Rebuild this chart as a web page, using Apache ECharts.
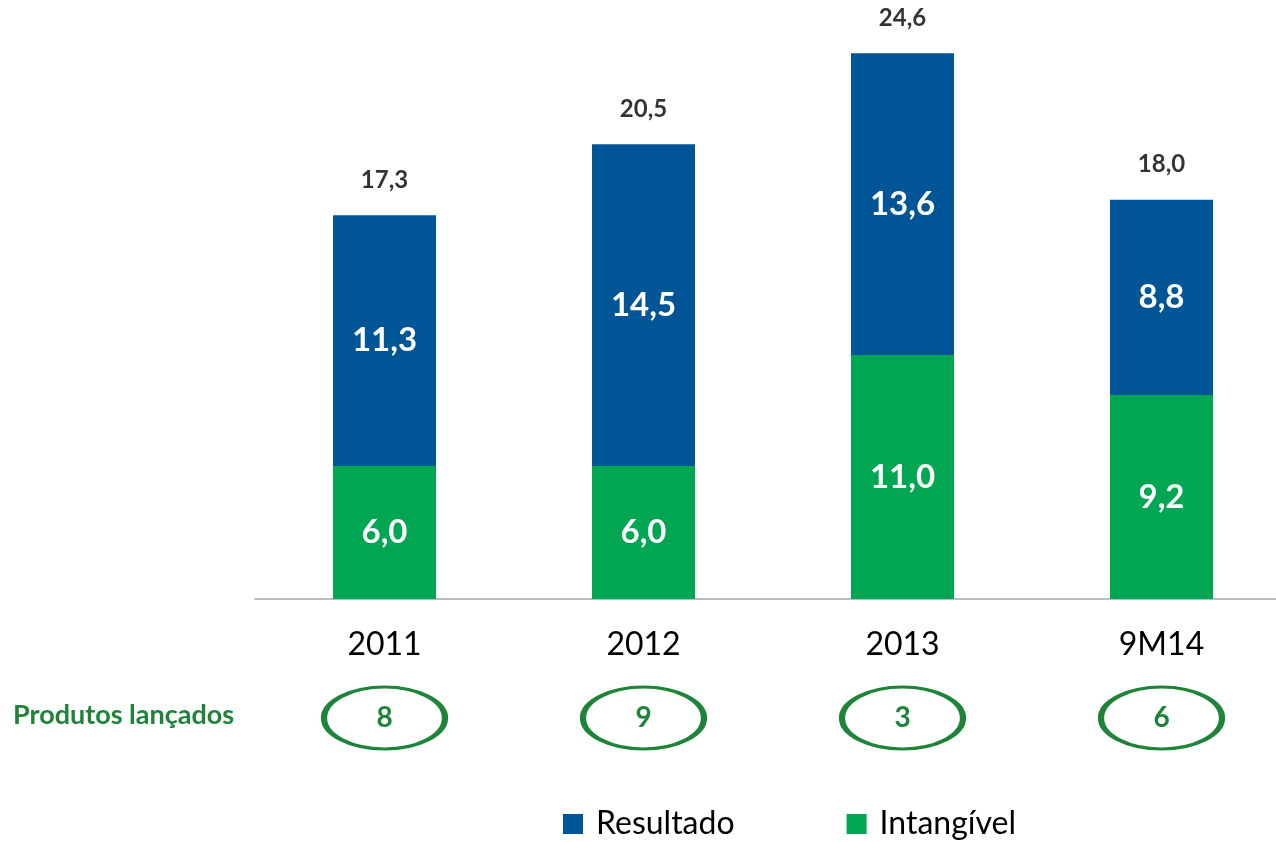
<!DOCTYPE html>
<html>
<head>
<meta charset="utf-8">
<script src="https://cdn.jsdelivr.net/npm/echarts@6/dist/echarts.min.js"></script>
<style>
html,body{margin:0;padding:0;background:#fff;}
#chart{width:1276px;height:842px;}
</style>
</head>
<body>
<div id="chart"></div>
<script>
const categories = ['2011', '2012', '2013', '9M14'];
const intangivel = [6.0, 6.0, 11.0, 9.2];
const resultado = [11.3, 14.5, 13.6, 8.8];
const totals = [17.3, 20.5, 24.6, 18.0];
const produtos = [8, 9, 3, 6];
const rowTitle = 'Produtos lançados';

const BLUE = '#005596';
const GREEN = '#00A651';
const DARKGREEN = '#1E8439';
const FONT = 'Lato';
const fmt = v => v.toFixed(1).replace('.', ',');

const chart = echarts.init(document.getElementById('chart'));
chart.setOption({
  animation: false,
  backgroundColor: '#fff',
  textStyle: { fontFamily: FONT },
  legend: {
    data: ['Resultado', 'Intangível'],
    left: 558,
    top: 803,
    itemWidth: 20,
    itemHeight: 20,
    itemGap: 112,
    icon: 'rect',
    textStyle: { fontFamily: FONT, fontSize: 32, color: '#000', padding: [0, 0, 0, 8] }
  },
  graphic: [{
    type: 'text',
    left: 13,
    top: 702,
    style: { text: rowTitle, font: 'bold 27px Lato', fill: DARKGREEN }
  }],
  grid: [
    { left: 255, width: 1036, top: 0, height: 599, outerBoundsMode: 'none' },
    { left: 255, width: 1036, top: 688, height: 60, outerBoundsMode: 'none' }
  ],
  xAxis: [{
    type: 'category',
    gridIndex: 0,
    data: categories,
    axisLine: { lineStyle: { color: '#A6A6A6', width: 1.5 } },
    axisTick: { length: 12, lineStyle: { color: '#A6A6A6', width: 1.5 } },
    axisLabel: { fontFamily: FONT, fontSize: 32, color: '#000', margin: 30 }
  }, {
    type: 'category',
    gridIndex: 1,
    data: categories,
    show: false
  }],
  yAxis: [{
    type: 'value', gridIndex: 0, min: 0, max: 27, show: false, splitLine: { show: false }
  }, {
    type: 'value', gridIndex: 1, min: -1, max: 1, show: false, splitLine: { show: false }
  }],
  series: [{
    name: 'Intangível',
    type: 'bar',
    stack: 'total',
    data: intangivel,
    barWidth: 103,
    itemStyle: { color: GREEN },
    label: {
      show: true, position: 'inside', formatter: p => fmt(p.value),
      fontFamily: FONT, fontWeight: 'bold', fontSize: 33, color: '#fff'
    }
  }, {
    name: 'Resultado',
    type: 'bar',
    stack: 'total',
    data: resultado,
    barWidth: 103,
    itemStyle: { color: BLUE },
    label: {
      show: true, position: 'inside', formatter: p => fmt(p.value),
      fontFamily: FONT, fontWeight: 'bold', fontSize: 33, color: '#fff'
    }
  }, {
    name: 'Total',
    type: 'scatter',
    data: totals,
    symbolSize: 0,
    silent: true,
    label: {
      show: true, position: 'top', distance: 23, formatter: p => fmt(p.value),
      fontFamily: FONT, fontWeight: 'bold', fontSize: 24, color: '#000'
    }
  }, {
    name: 'Produtos',
    type: 'scatter',
    xAxisIndex: 1,
    yAxisIndex: 1,
    data: produtos.map(v => ({ value: 0, label: { formatter: String(v) } })),
    symbol: 'circle',
    symbolSize: [121, 62],
    silent: true,
    itemStyle: { color: '#fff', borderColor: DARKGREEN, borderWidth: 4.5, opacity: 1 },
    label: {
      show: true, position: 'inside',
      fontFamily: FONT, fontWeight: 'bold', fontSize: 28, color: DARKGREEN
    }
  }]
});
</script>
</body>
</html>
